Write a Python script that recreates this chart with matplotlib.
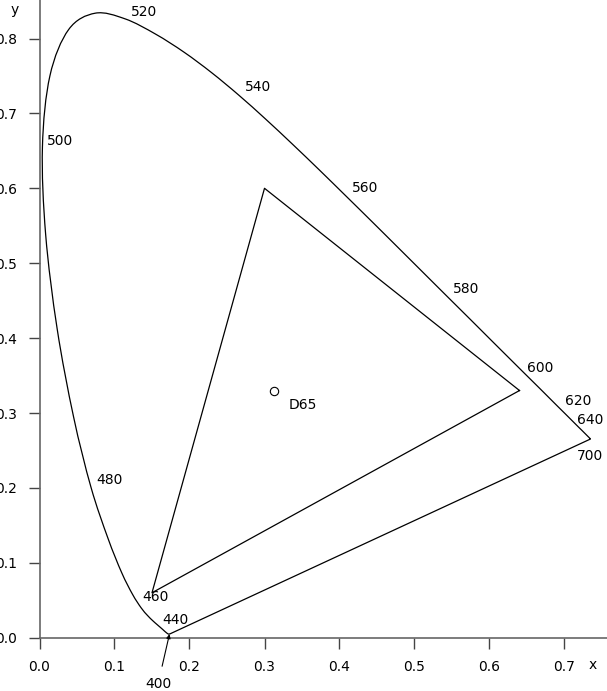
import matplotlib
matplotlib.use('Agg')
import matplotlib.pyplot as plt
from matplotlib.path import Path
from matplotlib.patches import PathPatch
import numpy as np

# CIE 1931 2-degree spectral locus, 5 nm steps (400..700 nm)
wavelengths = list(range(400, 705, 5))
locus_x = [0.1733, 0.1730, 0.1726, 0.1721, 0.1714, 0.1703, 0.1689, 0.1669,
           0.1644, 0.1611, 0.1566, 0.1510, 0.1440, 0.1355, 0.1241, 0.1096,
           0.0913, 0.0687, 0.0454, 0.0235, 0.0082, 0.0039, 0.0139, 0.0389,
           0.0743, 0.1142, 0.1547, 0.1929, 0.2296, 0.2658, 0.3016, 0.3373,
           0.3731, 0.4087, 0.4441, 0.4788, 0.5125, 0.5448, 0.5752, 0.6029,
           0.6270, 0.6482, 0.6658, 0.6801, 0.6915, 0.7006, 0.7079, 0.7140,
           0.7190, 0.7230, 0.7260, 0.7283, 0.7300, 0.7311, 0.7320, 0.7327,
           0.7334, 0.7340, 0.7344, 0.7346, 0.7347]
locus_y = [0.0048, 0.0048, 0.0048, 0.0048, 0.0051, 0.0058, 0.0069, 0.0086,
           0.0109, 0.0138, 0.0177, 0.0227, 0.0297, 0.0399, 0.0578, 0.0868,
           0.1327, 0.2007, 0.2950, 0.4127, 0.5384, 0.6548, 0.7502, 0.8120,
           0.8338, 0.8262, 0.8059, 0.7816, 0.7543, 0.7243, 0.6923, 0.6589,
           0.6245, 0.5896, 0.5547, 0.5202, 0.4866, 0.4544, 0.4242, 0.3965,
           0.3725, 0.3514, 0.3340, 0.3197, 0.3083, 0.2993, 0.2920, 0.2859,
           0.2809, 0.2770, 0.2740, 0.2717, 0.2700, 0.2689, 0.2680, 0.2673,
           0.2666, 0.2660, 0.2656, 0.2654, 0.2653]

# sRGB primaries and white point
srgb_x = [0.64, 0.30, 0.15]
srgb_y = [0.33, 0.60, 0.06]
d65 = (0.3127, 0.3290)

# wavelength labels and where their text sits
label_text = ['520', '540', '560', '580', '600', '620', '640', '700',
              '500', '480', '460', '440']
label_x = [0.139, 0.292, 0.434, 0.569, 0.668, 0.718, 0.734, 0.734,
           0.027, 0.093, 0.155, 0.181]
label_y = [0.836, 0.735, 0.600, 0.466, 0.360, 0.316, 0.290, 0.242,
           0.663, 0.210, 0.055, 0.023]


def smooth_path(xs, ys):
    # cubic Bezier through the data points (Catmull-Rom tangents)
    p = np.column_stack([xs, ys])
    ext = np.vstack([p[0], p, p[-1]])
    verts = [p[0]]
    codes = [Path.MOVETO]
    for i in range(len(p) - 1):
        p0, p1, p2, p3 = ext[i], ext[i + 1], ext[i + 2], ext[i + 3]
        verts += [p1 + (p2 - p0) / 6, p2 - (p3 - p1) / 6, p2]
        codes += [Path.CURVE4] * 3
    # line of purples back to the start
    verts.append(p[0])
    codes.append(Path.LINETO)
    return Path(verts, codes)


fig = plt.figure(figsize=(6.07, 6.91), dpi=100)
ax = fig.add_axes([39.5 / 607, 53.3 / 691, 567.5 / 607, 637.7 / 691])
ax.set_xlim(0, 567.5 / 750)
ax.set_ylim(0, 637.7 / 749)

ax.add_patch(PathPatch(smooth_path(locus_x, locus_y), fill=False,
                       edgecolor='black', lw=0.9))
# sRGB gamut
ax.plot(srgb_x + [srgb_x[0]], srgb_y + [srgb_y[0]], color='black', lw=0.9)
ax.plot(*d65, marker='o', ms=6, mfc='white', mec='black', mew=0.8)
ax.text(0.351, 0.311, 'D65', ha='center', va='center', fontsize=10)

for t, x, y in zip(label_text, label_x, label_y):
    ax.text(x, y, t, ha='center', va='center', fontsize=10)

ax.annotate('400', xy=(locus_x[0], locus_y[0]), xytext=(0.158, -0.062),
            ha='center', va='center', fontsize=10, annotation_clip=False,
            arrowprops=dict(arrowstyle='-|>', color='black', lw=0.8,
                            mutation_scale=6, shrinkA=6, shrinkB=0))

for side in ('top', 'right'):
    ax.spines[side].set_visible(False)
for side in ('left', 'bottom'):
    ax.spines[side].set_color('#666666')
    ax.spines[side].set_linewidth(1.2)
ax.set_xticks([0.0, 0.1, 0.2, 0.3, 0.4, 0.5, 0.6, 0.7])
ax.set_yticks([0.0, 0.1, 0.2, 0.3, 0.4, 0.5, 0.6, 0.7, 0.8])
ax.tick_params(direction='out', length=8, width=1, color='#444444',
               labelsize=10, pad=8)

fig.text(593 / 607, 1 - 665 / 691, 'x', ha='center', va='center', fontsize=10)
fig.text(15 / 607, 1 - 10 / 691, 'y', ha='center', va='center', fontsize=10)

fig.savefig('out.png', dpi=100)
